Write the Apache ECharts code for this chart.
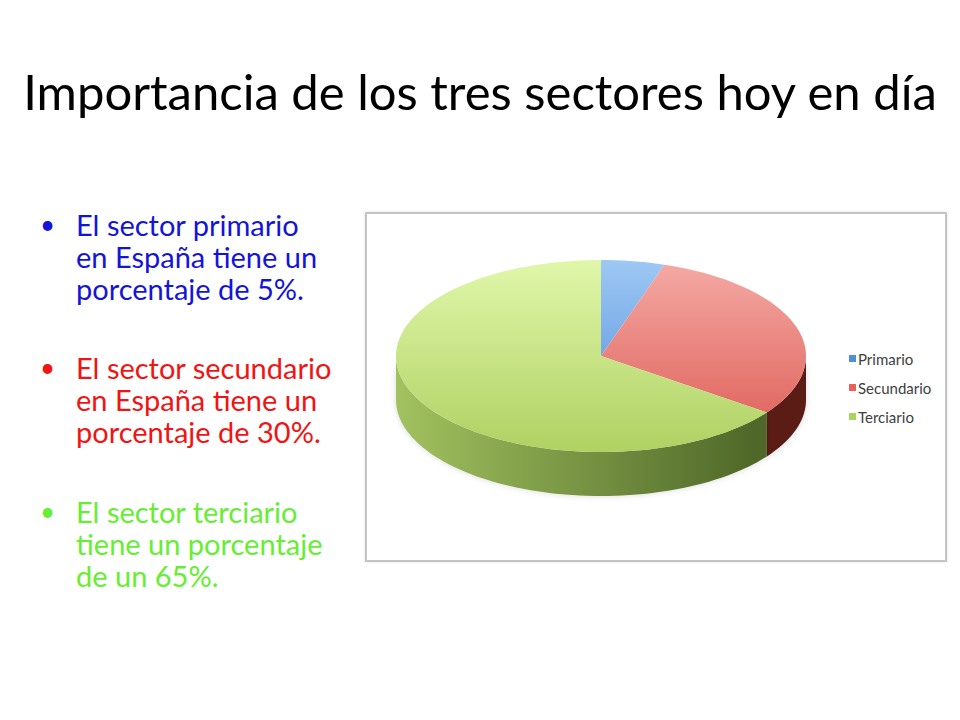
<!DOCTYPE html>
<html>
<head>
<meta charset="utf-8">
<title>Importancia de los tres sectores</title>
<script src="https://cdn.jsdelivr.net/npm/echarts@6/dist/echarts.min.js"></script>
<style>
  html, body { margin: 0; padding: 0; background: #fff; }
  #main { width: 960px; height: 720px; }
</style>
</head>
<body>
<div id="main"></div>
<script>
// datos del gráfico
var sectores = ['Primario', 'Secundario', 'Terciario'];
var porcentajes = [5, 30, 65];
var coloresLeyenda = ['#4f8fd9', '#e8615b', '#a9d45e'];

// textos de la diapositiva
var titulo = 'Importancia de los tres sectores hoy en día';
var vinetas = [
  ['El sector primario', 'en España tiene un', 'porcentaje de 5%.'],
  ['El sector secundario', 'en España tiene un', 'porcentaje de 30%.'],
  ['El sector terciario', 'tiene un porcentaje', 'de un 65%.']
];
var coloresVinetas = ['#1414d8', '#f01414', '#66ee33'];

var chart = echarts.init(document.getElementById('main'), null, { renderer: 'svg' });

// geometría del pastel "3D"
var cx = 601, cy = 356, rx = 205, ry = 96, depth = 44;
var total = porcentajes.reduce(function (a, b) { return a + b; }, 0);

var caraSuperior = [
  { c0: '#9ec8f4', c1: '#4a88d6' },
  { c0: '#f5aaa5', c1: '#dc5a53' },
  { c0: '#e0f7aa', c1: '#b0d163' }
];
var caraLateral = [
  ['#3a6aa8', '#2c5286'],
  ['#7e2a26', '#5c1a17'],
  ['#a2c25f', '#4f6829']
];

function punto(ang, dy) {
  // ang en grados, 0 = arriba, sentido horario
  var r = ang * Math.PI / 180;
  return [cx + rx * Math.sin(r), cy - ry * Math.cos(r) + (dy || 0)];
}

function arco(a0, a1, dy) {
  var pts = [];
  var n = Math.max(2, Math.ceil((a1 - a0) / 2));
  for (var i = 0; i <= n; i++) {
    pts.push(punto(a0 + (a1 - a0) * i / n, dy));
  }
  return pts;
}

function renderPorcion(idx) {
  return function (params, api) {
    var v = api.value(0);
    var antes = 0;
    for (var k = 0; k < idx; k++) antes += porcentajes[k];
    var a0 = antes / total * 360;
    var a1 = (antes + v) / total * 360;
    var hijos = [];

    // pared lateral (solo la mitad delantera)
    var s0 = Math.max(a0, 90), s1 = Math.min(a1, 270);
    if (s1 > s0) {
      var sup = arco(s0, s1, 0);
      var inf = arco(s0, s1, depth).reverse();
      hijos.push({
        type: 'polygon',
        shape: { points: sup.concat(inf) },
        style: {
          fill: {
            type: 'linear', x: cx - rx, y: 0, x2: cx + rx * 0.75, y2: 0, global: true,
            colorStops: [
              { offset: 0, color: caraLateral[idx][0] },
              { offset: 1, color: caraLateral[idx][1] }
            ]
          },
          shadowBlur: 6,
          shadowColor: 'rgba(0,0,0,0.15)'
        }
      });
    }

    // cara superior
    var tapa = [[cx, cy]].concat(arco(a0, a1, 0));
    hijos.push({
      type: 'polygon',
      shape: { points: tapa },
      style: {
        fill: {
          type: 'linear', x: 0, y: cy - ry, x2: 0, y2: cy + ry, global: true,
          colorStops: [
            { offset: 0, color: caraSuperior[idx].c0 },
            { offset: 1, color: caraSuperior[idx].c1 }
          ]
        }
      }
    });
    return { type: 'group', children: hijos };
  };
}

var series = sectores.map(function (nombre, i) {
  return {
    name: nombre,
    type: 'custom',
    coordinateSystem: 'none',
    itemStyle: { color: coloresLeyenda[i] },
    renderItem: renderPorcion(i),
    data: [[porcentajes[i]]],
    silent: true
  };
});

var graficos = [
  {
    type: 'rect',
    shape: { x: 366, y: 213, width: 580, height: 348 },
    style: { fill: '#fff', stroke: '#c4c4c4', lineWidth: 2,
      shadowBlur: 3, shadowColor: 'rgba(0,0,0,0.12)' },
    z: -10
  }
];
var topes = [209, 352, 496];
vinetas.forEach(function (lineas, i) {
  graficos.push({
    type: 'text',
    style: {
      text: '•', x: 40, y: topes[i] + 1, fill: coloresVinetas[i],
      font: '26px Lato', lineHeight: 28
    }
  });
  lineas.forEach(function (l, j) {
    graficos.push({
      type: 'text',
      style: {
        text: l, x: 76, y: topes[i] + j * 32, fill: coloresVinetas[i],
        font: '29px Lato', lineHeight: 30
      }
    });
  });
});

var option = {
  backgroundColor: '#fff',
  title: {
    text: titulo,
    left: 'center',
    top: 61,
    textStyle: { fontFamily: 'Lato', fontSize: 49, fontWeight: 'normal', color: '#000' }
  },
  legend: {
    data: sectores,
    orient: 'vertical',
    left: 844,
    top: 346,
    icon: 'rect',
    itemWidth: 7,
    itemHeight: 7,
    itemGap: 14,
    selectedMode: false,
    textStyle: { fontFamily: 'Lato', fontSize: 15, color: '#404040', padding: [0, 0, 0, -3] }
  },
  graphic: graficos,
  series: series
};

chart.setOption(option);
</script>
</body>
</html>
